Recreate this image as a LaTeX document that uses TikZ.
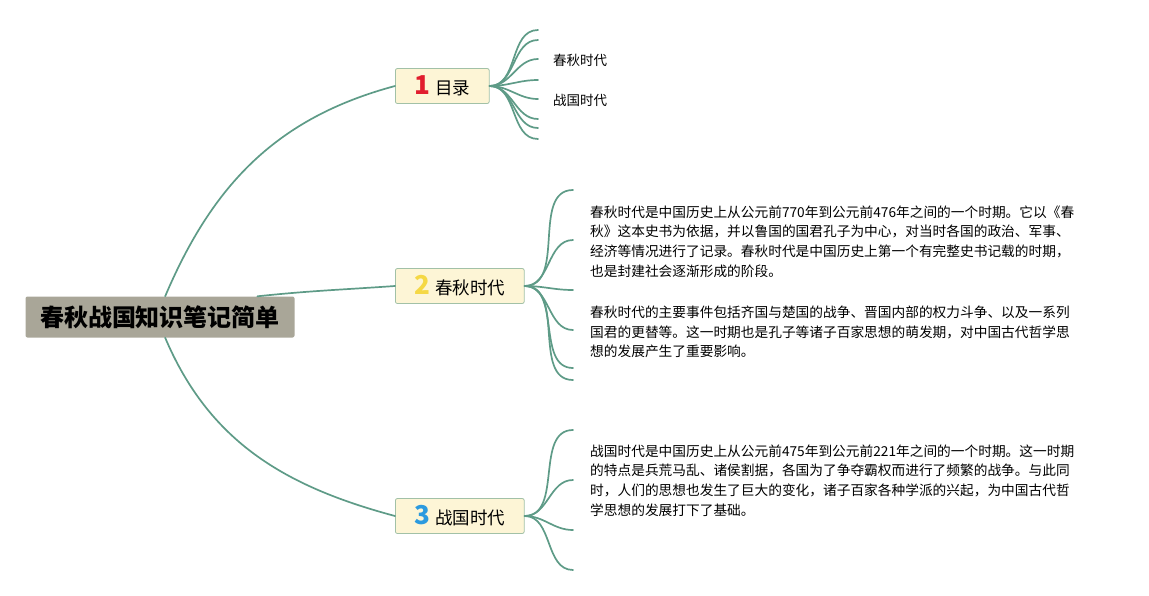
\documentclass[tikz,border=0pt]{standalone}
\usepackage{fontspec}
\setmainfont{Noto Sans CJK SC}
\usepackage{xcolor}
\usetikzlibrary{calc}
\definecolor{linkgreen}{HTML}{5E9B87}
\definecolor{rootgray}{HTML}{A9A698}
\definecolor{topiccream}{HTML}{FDF5D6}
\definecolor{topicedge}{HTML}{A2C1A7}
\definecolor{numred}{HTML}{E11D2E}
\definecolor{numyellow}{HTML}{F5D845}
\definecolor{numblue}{HTML}{2B9ADF}
\newcommand{\topicnum}[2]{{\fontsize{26}{26}\selectfont\bfseries\color{#1}#2}\hspace{5pt}}

\begin{document}
\begin{tikzpicture}[
            x=1pt, y=1pt,
            line cap=round,
            line join=round,
            link/.style={draw=linkgreen, line width=1.7pt},
            root/.style={fill=rootgray, rounded corners=2pt,
                minimum width=269pt, minimum height=41pt, inner sep=0pt,
                font=\fontsize{24}{28}\selectfont\bfseries},
            topic/.style={draw=topicedge, fill=topiccream, line width=0.8pt,
                rounded corners=2pt, anchor=west, minimum height=35pt,
                inner xsep=19pt, inner ysep=0pt,
                font=\fontsize{17.5}{20}\selectfont},
            leaf/.style={anchor=west, inner sep=0pt,
                font=\fontsize{13.5}{16}\selectfont},
            note/.style={anchor=west, align=left, inner sep=0pt,
                font=\fontsize{13.7}{19.7}\selectfont}
        ]

        % Canvas
        \useasboundingbox (0,0) rectangle (1149,-595);

        % Central topic and the three main topics
        \node[root] (root) at (160,-317) {春秋战国知识笔记简单};
        \node[topic] (t1) at (395,-86)  {\topicnum{numred}{1}目录};
        \node[topic] (t2) at (395,-286) {\topicnum{numyellow}{2}春秋时代};
        \node[topic] (t3) at (395,-516) {\topicnum{numblue}{3}战国时代};

        % Main branches
        \draw[link] (root.76) to[out=67,in=195] (t1.west);
        \draw[link] (root.12) to[out=6,in=184] (t2.west);
        \draw[link] (root.-76) to[out=-67,in=165] (t3.west);

        % Sub-branches of topic 1
        \foreach \y [count=\i] in {30,40,59,80,99,119,128,139} {
            \coordinate (a\i) at (538,-\y);
            \draw[link] (t1.east) to[out=0,in=180] (a\i);
        }
        \node[leaf] (spring) at (553,-60) {春秋时代};
        \node[leaf] (warring) at (553,-100) {战国时代};

        % Sub-branches of topic 2
        \foreach \y [count=\i] in {190,240,290,330,368,380} {
            \coordinate (b\i) at (573,-\y);
            \draw[link] (t2.east) to[out=0,in=180] (b\i);
        }
        \node[note] (springA) at (590,-241.5) {春秋时代是中国历史上从公元前770年到公元前476年之间的一个时期。它以《春\\
            秋》这本史书为依据，并以鲁国的国君孔子为中心，对当时各国的政治、军事、\\
            经济等情况进行了记录。春秋时代是中国历史上第一个有完整史书记载的时期，\\
            也是封建社会逐渐形成的阶段。};
        \node[note] (springB) at (590,-332) {春秋时代的主要事件包括齐国与楚国的战争、晋国内部的权力斗争、以及一系列\\
            国君的更替等。这一时期也是孔子等诸子百家思想的萌发期，对中国古代哲学思\\
            想的发展产生了重要影响。};

        % Sub-branches of topic 3
        \foreach \y [count=\i] in {430,480,530,570} {
            \coordinate (c\i) at (573,-\y);
            \draw[link] (t3.east) to[out=0,in=180] (c\i);
        }
        \node[note] (warringA) at (590,-480.5) {战国时代是中国历史上从公元前475年到公元前221年之间的一个时期。这一时期\\
            的特点是兵荒马乱、诸侯割据，各国为了争夺霸权而进行了频繁的战争。与此同\\
            时，人们的思想也发生了巨大的变化，诸子百家各种学派的兴起，为中国古代哲\\
            学思想的发展打下了基础。};

        \end{tikzpicture}
\end{document}
